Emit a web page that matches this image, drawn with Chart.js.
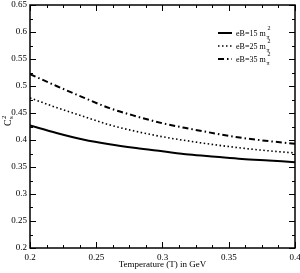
<!DOCTYPE html>
<html>
<head>
<meta charset="utf-8">
<script src="https://cdn.jsdelivr.net/npm/chart.js@4/dist/chart.umd.min.js"></script>
<style>
  html, body { margin: 0; padding: 0; background: #fff; }
  #wrap { width: 300px; height: 273px; }
</style>
</head>
<body>
<div id="wrap"><canvas id="cs2Chart" width="300" height="273"></canvas></div>
<script>
// temperature points (GeV)
const temps = [0.2, 0.22, 0.24, 0.26, 0.28, 0.3, 0.32, 0.34, 0.36, 0.38, 0.4];
// speed of sound squared for each field strength
const cs2_eB15 = [0.427, 0.413, 0.401, 0.392, 0.385, 0.379, 0.373, 0.369, 0.365, 0.362, 0.359];
const cs2_eB25 = [0.478, 0.460, 0.444, 0.428, 0.416, 0.406, 0.398, 0.391, 0.385, 0.380, 0.376];
const cs2_eB35 = [0.522, 0.500, 0.479, 0.459, 0.444, 0.431, 0.421, 0.412, 0.404, 0.398, 0.393];
const fieldLabels = ["eB=15 m", "eB=25 m", "eB=35 m"];

const FONT = "Liberation Serif, Times New Roman, serif";

function pts(vals) {
  return temps.map((t, i) => ({ x: t, y: vals[i] }));
}

function isMajor(v, step) {
  return Math.abs(Math.round(v / step) * step - v) < 1e-6;
}

// frame, inward ticks on all four sides, legend and y title
const framePlugin = {
  id: "frame",
  afterDraw(chart) {
    const c = chart.ctx;
    const a = chart.chartArea;
    const xs = chart.scales.x, ys = chart.scales.y;
    c.save();
    c.strokeStyle = "#000";
    c.lineWidth = 1.5;
    c.setLineDash([]);
    c.strokeRect(a.left, a.top, a.right - a.left, a.bottom - a.top);

    c.lineWidth = 1;
    c.beginPath();
    xs.ticks.forEach(t => {
      const px = Math.round(xs.getPixelForValue(t.value)) + 0.5;
      const len = isMajor(t.value, 0.05) ? 6 : 3;
      c.moveTo(px, a.bottom); c.lineTo(px, a.bottom - len);
      c.moveTo(px, a.top); c.lineTo(px, a.top + len);
    });
    ys.ticks.forEach(t => {
      const py = Math.round(ys.getPixelForValue(t.value)) + 0.5;
      const len = isMajor(t.value, 0.05) ? 6 : 3;
      c.moveTo(a.left, py); c.lineTo(a.left + len, py);
      c.moveTo(a.right, py); c.lineTo(a.right - len, py);
    });
    c.stroke();

    // legend
    const styles = chart.data.datasets;
    const rows = [33, 46, 59];
    styles.forEach((ds, i) => {
      const y = rows[i];
      c.beginPath();
      c.lineWidth = ds.borderWidth;
      c.setLineDash(ds.borderDash || []);
      c.moveTo(218, y); c.lineTo(232, y);
      c.stroke();
      c.setLineDash([]);
      c.fillStyle = "#000";
      c.textBaseline = "middle";
      c.textAlign = "left";
      c.font = "8px " + FONT;
      const txt = fieldLabels[i];
      c.fillText(txt, 236, y + 1);
      const w = c.measureText(txt).width;
      c.font = "6px " + FONT;
      c.fillText("2", 236 + w + 2, y - 5);
      c.fillText("\u03c0", 236 + w + 1, y + 4);
    });

    // y axis title C_s^2
    c.translate(8, 122);
    c.rotate(-Math.PI / 2);
    c.textAlign = "left";
    c.textBaseline = "middle";
    c.font = "10px " + FONT;
    c.fillText("C", -4, 0);
    c.font = "7px " + FONT;
    c.fillText("s", 3, 3);
    c.fillText("2", 3, -4);
    c.restore();
  }
};

const ctx = document.getElementById("cs2Chart").getContext("2d");
new Chart(ctx, {
  type: "line",
  data: {
    datasets: [
      { data: pts(cs2_eB15), borderColor: "#000", borderWidth: 2, borderDash: [] },
      { data: pts(cs2_eB25), borderColor: "#000", borderWidth: 1.6, borderDash: [1.5, 2.5] },
      { data: pts(cs2_eB35), borderColor: "#000", borderWidth: 2, borderDash: [6, 3, 1.5, 3] }
    ]
  },
  options: {
    responsive: false,
    animation: false,
    layout: { padding: { top: 5, right: 5, left: 0, bottom: 0 } },
    elements: {
      point: { radius: 0 },
      line: { cubicInterpolationMode: "monotone", fill: false }
    },
    plugins: { legend: { display: false }, tooltip: { enabled: false } },
    scales: {
      x: {
        type: "linear",
        min: 0.2, max: 0.4,
        afterFit: s => { s.height = 25; s.paddingLeft = 0; s.paddingRight = 0; },
        grid: { display: false, drawTicks: false },
        border: { display: false },
        ticks: {
          stepSize: 0.0125,
          autoSkip: false,
          maxRotation: 0,
          padding: 4,
          color: "#000",
          font: { family: FONT, size: 9 },
          callback: v => isMajor(v, 0.05) ? String(+v.toFixed(3)) : ""
        },
        title: {
          display: true,
          text: "Temperature (T) in GeV",
          color: "#000",
          font: { family: FONT, size: 9 },
          padding: { top: 0, bottom: 3 }
        }
      },
      y: {
        min: 0.2, max: 0.65,
        afterFit: s => { s.width = 30; s.paddingTop = 0; s.paddingBottom = 0; },
        grid: { display: false, drawTicks: false },
        border: { display: false },
        ticks: {
          stepSize: 0.025,
          autoSkip: false,
          padding: 3,
          color: "#000",
          font: { family: FONT, size: 9 },
          callback: v => isMajor(v, 0.05) ? String(+v.toFixed(3)) : ""
        }
      }
    }
  },
  plugins: [framePlugin]
});
</script>
</body>
</html>
